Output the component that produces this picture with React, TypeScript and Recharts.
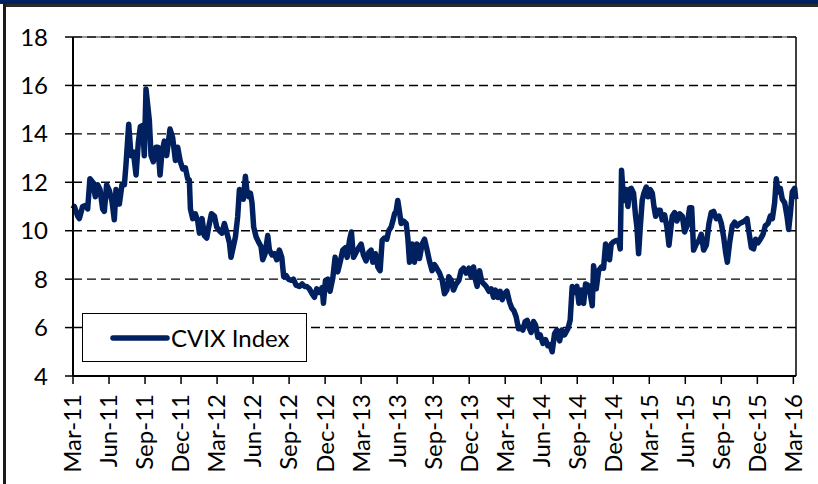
import { LineChart, Line, XAxis, YAxis, CartesianGrid, ReferenceLine, Legend } from "recharts";

// months since Mar-2011
const MONTHS = [
  0, 0.11, 0.39, 0.53, 0.8, 1.08, 1.22, 1.41, 1.64, 1.86, 2.05, 2.25, 2.47, 2.61, 2.8, 3.03, 3.25, 3.44, 3.58, 3.86,
  4.08, 4.28, 4.41, 4.64, 4.83, 5.03, 5.25, 5.44, 5.61, 5.8, 5.94, 6.08, 6.22, 6.36, 6.5, 6.69, 6.91, 7.08, 7.25, 7.41,
  7.61, 7.8, 8.08, 8.3, 8.53, 8.72, 8.94, 9.14, 9.36, 9.55, 9.69, 9.78, 9.97, 10.19, 10.39, 10.53, 10.75, 10.94, 11.14, 11.3,
  11.53, 11.78, 11.97, 12.19, 12.41, 12.61, 12.8, 13.03, 13.16, 13.36, 13.53, 13.72, 13.86, 14.05, 14.19, 14.36, 14.47, 14.64, 14.78, 14.91,
  15.05, 15.25, 15.44, 15.66, 15.8, 16.0, 16.22, 16.36, 16.58, 16.78, 16.97, 17.19, 17.39, 17.55, 17.75, 17.94, 18.16, 18.36, 18.58, 18.86,
  19.08, 19.28, 19.47, 19.69, 19.91, 20.11, 20.3, 20.53, 20.75, 20.86, 21.03, 21.22, 21.41, 21.64, 21.83, 22.05, 22.25, 22.47, 22.69, 22.83,
  23.03, 23.19, 23.36, 23.58, 23.8, 24.0, 24.19, 24.41, 24.64, 24.83, 24.97, 25.19, 25.39, 25.58, 25.75, 25.94, 26.14, 26.3, 26.5, 26.64,
  26.78, 26.91, 27.05, 27.19, 27.33, 27.53, 27.75, 27.89, 28.03, 28.25, 28.44, 28.64, 28.86, 29.08, 29.28, 29.47, 29.69, 29.91, 30.11, 30.3,
  30.53, 30.75, 30.94, 31.14, 31.3, 31.5, 31.69, 31.91, 32.14, 32.33, 32.53, 32.75, 32.97, 33.16, 33.36, 33.53, 33.66, 33.86, 34.05, 34.22,
  34.41, 34.64, 34.83, 35.03, 35.19, 35.39, 35.58, 35.75, 35.94, 36.14, 36.36, 36.55, 36.72, 36.91, 37.11, 37.28, 37.47, 37.66, 37.83, 38.03,
  38.16, 38.36, 38.53, 38.72, 38.91, 39.14, 39.36, 39.55, 39.72, 39.91, 40.11, 40.3, 40.53, 40.72, 40.94, 41.22, 41.41, 41.58, 41.78, 41.97,
  42.14, 42.33, 42.53, 42.69, 42.89, 43.08, 43.25, 43.36, 43.58, 43.78, 44.0, 44.19, 44.36, 44.55, 44.69, 44.83, 45.05, 45.25, 45.44, 45.58,
  45.69, 45.86, 46.03, 46.22, 46.36, 46.5, 46.69, 46.86, 46.97, 47.11, 47.25, 47.41, 47.55, 47.75, 47.89, 48.08, 48.25, 48.39, 48.53, 48.72,
  48.91, 49.08, 49.28, 49.47, 49.64, 49.91, 50.11, 50.3, 50.53, 50.75, 50.94, 51.14, 51.36, 51.53, 51.69, 51.91, 52.14, 52.33, 52.53, 52.75,
  52.97, 53.16, 53.36, 53.58, 53.8, 54.0, 54.19, 54.36, 54.5, 54.69, 54.91, 55.11, 55.3, 55.53, 55.75, 55.94, 56.14, 56.3, 56.5, 56.69,
  56.86, 57.05, 57.25, 57.47, 57.66, 57.89, 58.08, 58.25, 58.44, 58.58, 58.72, 58.91, 59.08, 59.28, 59.47, 59.61, 59.75, 59.91, 60.11, 60.2,
];

const CVIX = [
  10.9, 11.0, 10.6, 10.5, 11.0, 11.05, 10.9, 12.15, 12.0, 11.4, 11.9, 11.7, 10.9, 10.8, 11.9, 11.65, 11.2, 10.45, 11.7, 11.1,
  11.9, 11.9, 12.7, 14.4, 13.1, 13.25, 12.3, 13.65, 14.3, 14.35, 13.1, 15.85, 15.2, 14.55, 13.1, 12.85, 13.45, 13.45, 12.3, 13.25,
  13.7, 13.1, 14.2, 13.85, 12.9, 13.45, 12.85, 12.55, 12.6, 12.15, 12.1, 10.9, 10.5, 10.7, 10.4, 9.9, 10.5, 9.8, 9.7, 10.15,
  10.7, 10.6, 10.15, 10.0, 9.9, 10.3, 9.95, 9.5, 8.9, 9.35, 9.75, 10.6, 11.7, 11.55, 11.3, 12.25, 11.7, 11.4, 11.55, 11.15,
  10.15, 9.75, 9.55, 9.35, 8.8, 9.05, 9.8, 9.2, 9.0, 9.05, 8.8, 9.2, 8.9, 8.1, 8.15, 8.0, 7.95, 8.0, 7.75, 7.7,
  7.8, 7.7, 7.7, 7.6, 7.4, 7.25, 7.6, 7.45, 7.65, 7.0, 7.95, 8.0, 7.5, 8.05, 8.9, 8.3, 8.7, 9.2, 9.3, 8.9,
  9.6, 9.95, 8.9, 9.1, 9.3, 9.45, 9.0, 8.75, 9.1, 9.2, 8.7, 9.05, 8.5, 8.35, 9.6, 9.7, 9.65, 10.0, 10.15, 10.4,
  10.7, 10.8, 11.25, 10.8, 10.3, 10.4, 10.3, 9.7, 8.7, 9.45, 8.7, 9.45, 8.85, 9.45, 9.65, 9.25, 8.75, 8.35, 8.6, 8.45,
  8.25, 7.95, 7.4, 7.55, 8.1, 7.95, 7.55, 7.8, 7.95, 8.35, 8.45, 8.25, 8.45, 8.1, 8.5, 7.95, 7.7, 8.35, 7.9, 7.8,
  7.7, 7.5, 7.6, 7.25, 7.55, 7.25, 7.5, 7.15, 7.4, 7.5, 7.05, 6.8, 6.7, 6.45, 5.95, 6.0, 5.9, 6.25, 6.3, 5.95,
  5.8, 6.25, 6.1, 5.6, 5.7, 5.35, 5.5, 5.25, 5.3, 5.0, 5.75, 5.9, 5.45, 5.9, 5.7, 5.95, 6.3, 7.7, 7.45, 7.7,
  7.0, 7.55, 7.0, 7.8, 7.75, 7.4, 6.9, 8.55, 7.6, 8.35, 8.5, 8.45, 9.45, 9.05, 8.8, 9.45, 9.55, 9.6, 9.6, 9.25,
  12.5, 11.25, 11.7, 11.0, 11.7, 11.75, 11.55, 10.6, 10.15, 9.05, 10.15, 11.25, 11.55, 11.8, 11.4, 11.7, 11.55, 11.0, 10.6, 10.85,
  10.85, 10.45, 10.65, 10.15, 9.4, 10.6, 10.75, 10.4, 10.7, 10.6, 9.95, 10.2, 10.95, 10.95, 9.2, 9.45, 9.6, 9.85, 9.2, 9.4,
  10.3, 10.75, 10.8, 10.5, 10.6, 10.3, 9.75, 9.1, 8.7, 9.5, 10.2, 10.35, 10.2, 10.3, 10.35, 10.4, 10.5, 9.95, 9.3, 9.25,
  9.65, 9.5, 9.65, 9.85, 10.2, 10.3, 10.6, 10.5, 11.15, 12.15, 11.6, 11.75, 11.3, 11.15, 10.6, 10.05, 10.7, 11.6, 11.75, 11.3,
];

const TICK_MONTHS = [0, 3, 6, 9, 12, 15, 18, 21, 24, 27, 30, 33, 36, 39, 42, 45, 48, 51, 54, 57, 60];
const TICK_LABELS = [
  "Mar-11", "Jun-11", "Sep-11", "Dec-11", "Mar-12", "Jun-12", "Sep-12", "Dec-12", "Mar-13", "Jun-13", "Sep-13",
  "Dec-13", "Mar-14", "Jun-14", "Sep-14", "Dec-14", "Mar-15", "Jun-15", "Sep-15", "Dec-15", "Mar-16",
];
const Y_TICKS = [4, 6, 8, 10, 12, 14, 16, 18];

const data = MONTHS.map((t, i) => ({ t, cvix: CVIX[i] }));

const NAVY = "#002060";
const FONT = "Lato, 'Noto Sans', sans-serif";
const X_MAX = 60.22;

const XTick = ({ x, y, payload }: any) => {
  const label = TICK_LABELS[TICK_MONTHS.indexOf(payload.value)];
  return (
    <text
      x={x}
      y={y}
      transform={`rotate(-90, ${x}, ${y})`}
      textAnchor="end"
      dy="0.35em"
      fill="#000"
      fontSize={24}
      fontFamily={FONT}
    >
      {label}
    </text>
  );
};

const LegendBox = ({ payload }: any) => {
  const item = payload && payload[0];
  return (
    <div
      style={{
        width: 225,
        height: 49,
        boxSizing: "border-box",
        border: "1.5px solid #000",
        background: "#fff",
        display: "flex",
        alignItems: "center",
        fontFamily: FONT,
        fontSize: 24,
        color: "#000",
      }}
    >
      <svg width={88} height={10} style={{ flex: "none" }}>
        <line x1={30} y1={5} x2={84} y2={5} stroke={item ? item.color : NAVY} strokeWidth={5.5} strokeLinecap="round" />
      </svg>
      <span>{item ? item.value : "CVIX Index"}</span>
    </div>
  );
};

export default function App() {
  return (
    <div style={{ position: "absolute", left: 0, top: 0, width: 818, height: 484, background: "#fff", overflow: "hidden" }}>
      <div style={{ position: "absolute", left: 0, top: 0, width: 818, height: 4, background: NAVY }} />
      <div style={{ position: "absolute", left: 3, top: 4, width: 815, height: 3, background: "#2a2a2a" }} />
      <div style={{ position: "absolute", left: 3, top: 4, width: 3, height: 480, background: "#1a1a1a" }} />
      <LineChart width={818} height={484} data={data} margin={{ top: 37, right: 22, bottom: 0, left: 0 }}>
        <CartesianGrid vertical={false} stroke="#000" strokeWidth={1.4} strokeDasharray="9 5" />
        <XAxis
          dataKey="t"
          type="number"
          domain={[0, X_MAX]}
          ticks={TICK_MONTHS}
          interval={0}
          height={108}
          tickSize={8}
          tickMargin={10}
          tick={<XTick />}
          axisLine={{ stroke: "#000", strokeWidth: 2 }}
          tickLine={{ stroke: "#000", strokeWidth: 1.5 }}
        />
        <YAxis
          domain={[4, 18]}
          ticks={Y_TICKS}
          interval={0}
          width={73}
          tickSize={8}
          tickMargin={17}
          tick={{ fill: "#000", fontSize: 24, fontFamily: FONT }}
          axisLine={{ stroke: "#000", strokeWidth: 2 }}
          tickLine={{ stroke: "#000", strokeWidth: 1.5 }}
        />
        <ReferenceLine y={18} stroke="#333" strokeWidth={1.2} />
        <ReferenceLine x={X_MAX} stroke="#000" strokeWidth={1.5} />
        <Legend
          layout="vertical"
          align="center"
          verticalAlign="middle"
          content={<LegendBox />}
          wrapperStyle={{ left: 82, top: 313, width: 225, height: 49 }}
        />
        <Line
          type="linear"
          dataKey="cvix"
          name="CVIX Index"
          stroke={NAVY}
          strokeWidth={5.5}
          strokeLinejoin="round"
          dot={false}
          isAnimationActive={false}
        />
      </LineChart>
    </div>
  );
}
